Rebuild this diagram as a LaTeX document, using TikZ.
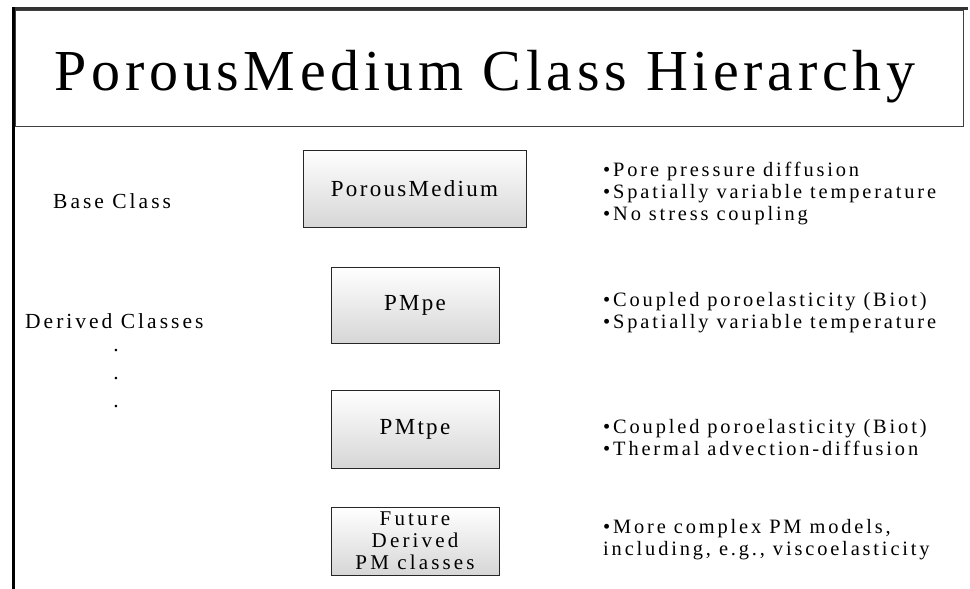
\documentclass[tikz,border=0pt]{standalone}
\usepackage{fontspec}
\setmainfont{Liberation Serif}
\newfontfamily\titlefont[LetterSpace=8]{Liberation Serif}
\newfontfamily\labelfont[LetterSpace=14]{Liberation Serif}
\newfontfamily\boxfont[LetterSpace=10]{Liberation Serif}
\newfontfamily\futurefont[LetterSpace=15]{Liberation Serif}
\begin{document}
\begin{tikzpicture}[x=1pt,y=-1pt,
  classbox/.style={draw=black!85, line width=0.9pt, top color=white,
    bottom color=black!16, inner sep=0pt, align=center,
    font=\boxfont\fontsize{23}{21.5}\selectfont},
  note/.style={anchor=base west, align=left, inner sep=0pt,
    font=\labelfont\fontsize{20.4}{21.7}\selectfont},
  sidelabel/.style={anchor=base west, inner sep=0pt,
    font=\labelfont\fontsize{21.5}{23}\selectfont}]
\useasboundingbox (0,0) rectangle (970,589);

% page frame and title banner
\draw[black!80, line width=2.4pt] (12,8.3) -- (968,8.3);
\draw[black, line width=2.7pt] (13.3,7) -- (13.3,589);
\draw[black!75, line width=0.9pt] (15,10.5) rectangle (963,126);
\node[anchor=base, inner sep=0pt, font=\titlefont\fontsize{58}{60}\selectfont]
  (title) at (485,90) {PorousMedium Class Hierarchy};

% left-hand labels
\node[sidelabel] (base) at (53,208) {Base Class};
\node[sidelabel] (derived) at (25,328) {Derived Classes};
\node[sidelabel, anchor=base] (dot1) at (116,351) {.};
\node[sidelabel, anchor=base] (dot2) at (116,379) {.};
\node[sidelabel, anchor=base] (dot3) at (116,407) {.};

% class boxes
\node[classbox, minimum width=223pt, minimum height=77pt] (pm) at (414.5,188.5) {PorousMedium};
\node[classbox, minimum width=168pt, minimum height=76pt] (pmpe) at (415,305) {PMpe};
\node[classbox, minimum width=168pt, minimum height=78pt] (pmtpe) at (415,429) {PMtpe};
\node[classbox, minimum width=168pt, minimum height=68pt,
  font=\futurefont\fontsize{21}{22}\selectfont] (future) at (415,541) {Future\\Derived\\PM classes};

% feature notes (each node is placed by the baseline of its last line)
\node[note] (n1) at (603,220) {•Pore pressure diffusion\\•Spatially variable temperature\\•No stress coupling};
\node[note] (n2) at (603,328) {•Coupled poroelasticity (Biot)\\•Spatially variable temperature};
\node[note] (n3) at (603,455) {•Coupled poroelasticity (Biot)\\•Thermal advection-diffusion};
\node[note] (n4) at (603,555) {•More complex PM models,\\including, e.g., viscoelasticity};
\end{tikzpicture}
\end{document}
